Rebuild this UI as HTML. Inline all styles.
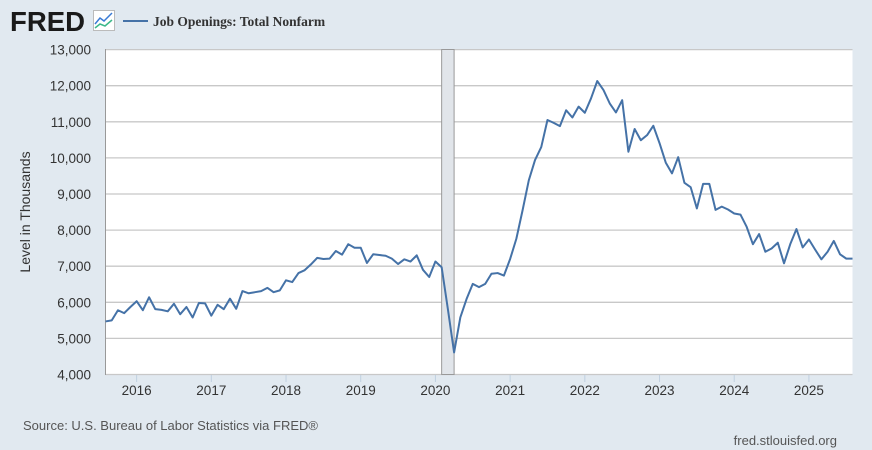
<!DOCTYPE html>
<html><head><meta charset="utf-8"><style>
body{margin:0;background:#e1e9f0;width:872px;height:450px;overflow:hidden;font-family:"Liberation Sans",sans-serif}
svg{display:block}
</style></head><body>
<svg width="872" height="450">
<rect x="0" y="0" width="872" height="450" fill="#e1e9f0"/>
<text x="10" y="31" font-family="Liberation Sans" font-weight="bold" font-size="28" fill="#1a1a1a" textLength="75" lengthAdjust="spacingAndGlyphs">FRED</text>
<g><rect x="93.5" y="10.5" width="21" height="20" fill="#fff" stroke="#bbb"/><polyline points="95,24 100,18 104,21 112,13" fill="none" stroke="#3a7bd5" stroke-width="1.5"/><polyline points="95,28 100,24 105,26 112,20" fill="none" stroke="#3cb88a" stroke-width="1.5"/></g>
<line x1="123" y1="21" x2="148" y2="21" stroke="#4572a7" stroke-width="2"/>
<text x="153" y="26" font-family="Liberation Serif" font-weight="bold" font-size="13.5" fill="#333">Job Openings: Total Nonfarm</text>
<rect x="105.5" y="49.5" width="747" height="325" fill="#fff"/>
<g id="grid"></g>
<g id="rec"></g>
<line x1="105.5" y1="49" x2="105.5" y2="375" stroke="#999"/>
<g id="xt"></g>
<g id="yt"></g>
<polyline id="line" fill="none" stroke="#4572a7" stroke-width="2" stroke-linejoin="round"/>
<text transform="translate(30,212) rotate(-90)" text-anchor="middle" font-size="14" fill="#333">Level in Thousands</text>
<text x="23" y="430" font-size="13" fill="#555">Source: U.S. Bureau of Labor Statistics via FRED®</text>
<text x="837" y="445" text-anchor="end" font-size="13" fill="#555">fred.stlouisfed.org</text>
</svg>
<script>
const startYear = 2015, startMonth = 7; // Aug 2015 (0-based month)
const values = [
5470,5500,5780,5700,5870,
6030,5780,6140,5810,5790,5750,5960,5670,5870,5580,5980,5970,
5630,5930,5810,6100,5820,6310,6250,6280,6310,6400,6280,6330,
6610,6560,6810,6890,7050,7230,7200,7210,7420,7320,7610,7510,
7510,7090,7330,7310,7290,7210,7060,7190,7130,7300,6900,6700,
7130,6970,5810,4610,5580,6090,6510,6420,6510,6790,6810,6740,
7200,7760,8550,9380,9940,10300,11050,10970,10880,11320,11120,11420,
11250,11650,12130,11880,11510,11260,11600,10170,10800,10490,10630,10890,
10410,9870,9570,10020,9310,9190,8600,9280,9280,8560,8650,8570,
8460,8430,8090,7610,7890,7400,7490,7650,7080,7610,8030,7520,
7740,7460,7190,7400,7700,7330,7210,7210];
const yTicks = [4000,5000,6000,7000,8000,9000,10000,11000,12000,13000];
const xYears = [2016,2017,2018,2019,2020,2021,2022,2023,2024,2025];
const recession = [[2020,1],[2020,3]];
const NS='http://www.w3.org/2000/svg';
const x0=105.5, mw=6.225, yb=374.5, ys=36.1/1000;
function xm(y,m){return x0+((y-startYear)*12+(m-startMonth))*mw;}
function yv(v){return yb-(v-4000)*ys;}
function mk(t,a,p){const e=document.createElementNS(NS,t);for(const k in a)e.setAttribute(k,a[k]);document.getElementById(p).appendChild(e);return e;}
yTicks.forEach(v=>{
 if(v>4000){const g=mk('line',{x1:105.5,x2:852.5,y1:yv(v),y2:yv(v),stroke:'#c8c8c8','stroke-width':1.3},'grid');
 
 }
 const t=mk('text',{x:91,y:yv(v)+5,'text-anchor':'end','font-size':13.5,fill:'#333'},'yt');
 t.textContent=v.toLocaleString('en-US');
 
 
});
mk('line',{x1:105.5,x2:852.5,y1:yb,y2:yb,stroke:'#c8c8c8','stroke-width':1.3},'grid');
const ra=xm(recession[0][0],recession[0][1]), rb=xm(recession[1][0],recession[1][1]);
const r=mk('rect',{x:ra,y:49.5,width:rb-ra,height:325,fill:'#e1e5ea',stroke:'#999','stroke-width':1},'rec');


xYears.forEach(y=>{
 const x=xm(y,0);
 const l=mk('line',{x1:x,x2:x,y1:375,y2:382,stroke:'#c0d0e0'},'xt');
 
 
 const t=mk('text',{x:x,y:395,'text-anchor':'middle','font-size':13.5,fill:'#333'},'xt');
 t.textContent=y;
 
 
});
document.getElementById('line').setAttribute('points',values.map((v,i)=>(x0+i*mw).toFixed(2)+','+yv(v).toFixed(2)).join(' '));
</script>
</body></html>
